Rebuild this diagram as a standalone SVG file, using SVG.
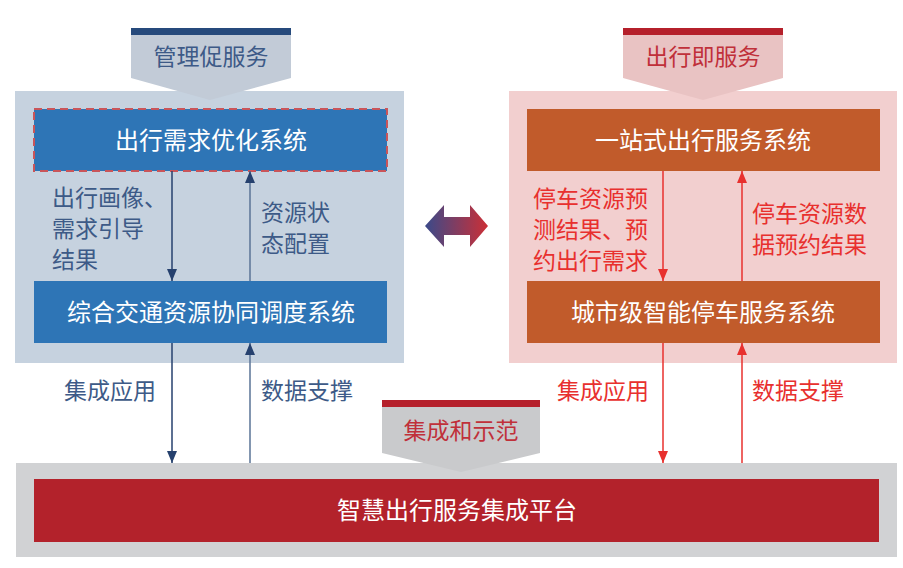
<svg xmlns="http://www.w3.org/2000/svg" width="903" height="568" viewBox="0 0 903 568">
<defs>
<style>
text{font-family:"Noto Sans CJK SC","Noto Sans",sans-serif;}
.box{font-size:24px;fill:#ffffff;text-anchor:middle;}
.lb{font-size:23px;fill:#3d5a87;}
.lr{font-size:23px;fill:#e8302e;}
.ban{font-size:23px;text-anchor:middle;}
.navy{stroke:#26416e;stroke-width:1.5;fill:none;}
.navy2{stroke:#5a7396;stroke-width:1.5;fill:none;}
.red{stroke:#e8302e;stroke-width:1.5;fill:none;}
</style>
<marker id="mn" viewBox="0 0 12 10" refX="12" refY="5" markerWidth="12" markerHeight="10" markerUnits="userSpaceOnUse" orient="auto">
<path d="M0,0 L12,5 L0,10 Z" fill="#26416e"/>
</marker>
<marker id="mr" viewBox="0 0 12 10" refX="12" refY="5" markerWidth="12" markerHeight="10" markerUnits="userSpaceOnUse" orient="auto">
<path d="M0,0 L12,5 L0,10 Z" fill="#e8302e"/>
</marker>
<linearGradient id="dg" x1="0" y1="0" x2="1" y2="0">
<stop offset="0" stop-color="#3a4a8a"/>
<stop offset="1" stop-color="#cc2f36"/>
</linearGradient>
</defs>
<rect width="903" height="568" fill="#ffffff"/>

<g id="left-panel">
<rect x="15" y="91" width="389" height="272" fill="#c6d2df"/>
</g>
<g id="right-panel">
<rect x="509" y="91" width="388" height="272" fill="#f2cfcf"/>
</g>
<g id="bottom-panel">
<rect x="16" y="463" width="881" height="94" fill="#d1d2d4"/>
</g>

<g id="banner-left">
<polygon points="131,35 291,35 291,78 210,100 131,78" fill="#c2cbd7"/>
<rect x="131" y="28" width="160" height="7" fill="#264a7c"/>
<text class="ban" x="211" y="65" fill="#3d5a87">管理促服务</text>
</g>
<g id="banner-right">
<polygon points="623,35 783,35 783,78 703,100 623,78" fill="#e9c3c3"/>
<rect x="623" y="28" width="160" height="7" fill="#b5202b"/>
<text class="ban" x="703" y="65" fill="#c0303a">出行即服务</text>
</g>

<g id="node-demand">
<rect x="34" y="109" width="353" height="62" fill="#2e75b6" stroke="#c9555a" stroke-width="2" stroke-dasharray="8,5"/>
<text class="box" x="211" y="149">出行需求优化系统</text>
</g>
<g id="node-traffic">
<rect x="34" y="281" width="353" height="62" fill="#2e75b6"/>
<text class="box" x="211" y="321">综合交通资源协同调度系统</text>
</g>
<g id="node-onestop">
<rect x="527" y="109" width="353" height="62" fill="#c15b2b"/>
<text class="box" x="703" y="149">一站式出行服务系统</text>
</g>
<g id="node-parking">
<rect x="527" y="281" width="353" height="62" fill="#c15b2b"/>
<text class="box" x="703" y="321">城市级智能停车服务系统</text>
</g>

<g id="banner-bottom">
<polygon points="382,407 540,407 540,453 461,472 382,453" fill="#c9cacc"/>
<rect x="382" y="400" width="158" height="7" fill="#b5202b"/>
<text class="ban" x="461" y="439" fill="#c0303a">集成和示范</text>
</g>

<g id="node-platform">
<rect x="34" y="479" width="845" height="63" fill="#b3222b"/>
<text class="box" x="457" y="519">智慧出行服务集成平台</text>
</g>

<g id="connectors">
<line class="navy" x1="172" y1="171" x2="172" y2="281" marker-end="url(#mn)"/>
<line class="navy2" x1="250" y1="281" x2="250" y2="171" marker-end="url(#mn)"/>
<line class="navy" x1="172" y1="343" x2="172" y2="463" marker-end="url(#mn)"/>
<line class="navy2" x1="250" y1="463" x2="250" y2="343" marker-end="url(#mn)"/>
<line class="red" x1="663" y1="171" x2="663" y2="281" marker-end="url(#mr)"/>
<line class="red" x1="742" y1="281" x2="742" y2="171" marker-end="url(#mr)"/>
<line class="red" x1="663" y1="343" x2="663" y2="463" marker-end="url(#mr)"/>
<line class="red" x1="742" y1="463" x2="742" y2="343" marker-end="url(#mr)"/>
<polygon id="double-arrow" points="425,226 444,205 444,217 470,217 470,205 488,226 470,247 470,235 444,235 444,247" fill="url(#dg)"/>
</g>

<g id="labels">
<text class="lb" x="52" y="206">出行画像、</text>
<text class="lb" x="52" y="237">需求引导</text>
<text class="lb" x="52" y="268">结果</text>
<text class="lb" x="261" y="221">资源状</text>
<text class="lb" x="261" y="252">态配置</text>
<text class="lb" x="64" y="399">集成应用</text>
<text class="lb" x="261" y="399">数据支撑</text>
<text class="lr" x="533" y="207">停车资源预</text>
<text class="lr" x="533" y="238">测结果、预</text>
<text class="lr" x="533" y="269">约出行需求</text>
<text class="lr" x="752" y="222">停车资源数</text>
<text class="lr" x="752" y="253">据预约结果</text>
<text class="lr" x="557" y="399">集成应用</text>
<text class="lr" x="752" y="399">数据支撑</text>
</g>
</svg>
